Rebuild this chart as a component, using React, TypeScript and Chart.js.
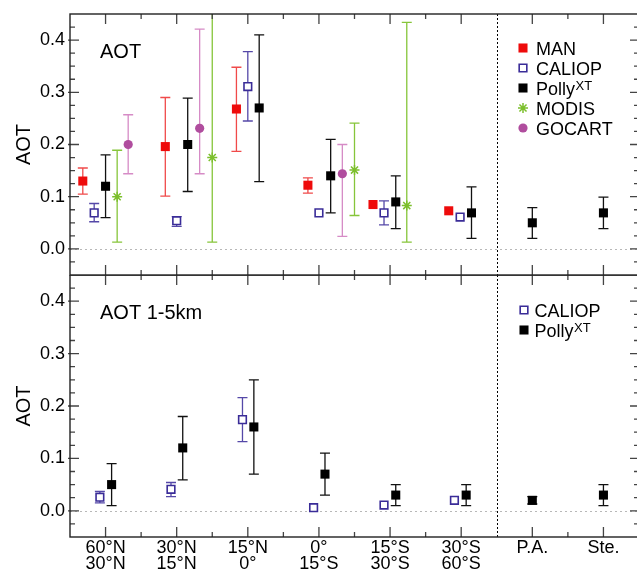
import React, { useEffect, useRef } from 'react';
import { Chart, registerables } from 'chart.js';
import { drawPoint } from 'chart.js/helpers';

Chart.register(...registerables);

const FONT = '"Liberation Sans", Arial, Helvetica, sans-serif';

// ---------- categories & ticks ----------
const categories: string[][] = [
  ['60°N', '30°N'],
  ['30°N', '15°N'],
  ['15°N', '0°'],
  ['0°', '15°S'],
  ['15°S', '30°S'],
  ['30°S', '60°S'],
  ['P.A.'],
  ['Ste.'],
];
const yTickValues = [0, 0.1, 0.2, 0.3, 0.4];
const yMin = -0.05;
const yMax = 0.45;
const separatorBetween = [5, 6]; // dashed line between these categories

// ---------- top panel: AOT ----------
const manAOT = [0.13, 0.196, 0.268, 0.122, 0.085, 0.073, null, null];
const manAOTLow = [0.105, 0.101, 0.187, 0.107, null, null, null, null];
const manAOTHigh = [0.155, 0.29, 0.348, 0.136, null, null, null, null];
const manAOTShift = [-0.32, -0.16, -0.16, -0.155, -0.24, -0.175, 0, 0];

const caliopAOT = [0.069, 0.054, 0.311, 0.069, 0.069, 0.061, null, null];
const caliopAOTLow = [0.052, 0.043, 0.245, null, 0.046, null, null, null];
const caliopAOTHigh = [0.087, 0.062, 0.378, null, 0.092, null, null, null];
const caliopAOTShift = [-0.16, 0, 0, 0, -0.085, -0.015, 0, 0];

const pollyAOT = [0.12, 0.2, 0.27, 0.14, 0.09, 0.069, 0.05, 0.069];
const pollyAOTLow = [0.06, 0.11, 0.129, 0.069, 0.039, 0.02, 0.02, 0.039];
const pollyAOTHigh = [0.18, 0.289, 0.41, 0.21, 0.14, 0.119, 0.079, 0.099];
const pollyAOTShift = [0, 0.155, 0.16, 0.165, 0.08, 0.145, 0, 0];

const modisAOT = [0.1, 0.175, null, 0.151, 0.083, null, null, null];
const modisAOTLow = [0.013, 0.013, null, 0.064, 0.013, null, null, null];
const modisAOTHigh = [0.189, 0.5, null, 0.241, 0.434, null, null, null];
const modisAOTShift = [0.163, 0.5, 0, 0.5, 0.235, 0, 0, 0];

const gocartAOT = [0.2, 0.231, null, 0.144, null, null, null, null];
const gocartAOTLow = [0.144, 0.144, null, 0.024, null, null, null, null];
const gocartAOTHigh = [0.257, 0.421, null, 0.2, null, null, null, null];
const gocartAOTShift = [0.318, 0.323, 0, 0.329, 0, 0, 0, 0];

// ---------- bottom panel: AOT 1-5 km ----------
const caliopLayer = [0.026, 0.041, 0.174, 0.006, 0.011, 0.02, null, null];
const caliopLayerLow = [0.015, 0.027, 0.132, null, null, null, null, null];
const caliopLayerHigh = [0.037, 0.054, 0.216, null, null, null, null, null];
const caliopLayerShift = [-0.08, -0.08, -0.075, -0.075, -0.085, -0.095, 0, 0];

const pollyLayer = [0.05, 0.12, 0.16, 0.07, 0.03, 0.03, 0.02, 0.03];
const pollyLayerLow = [0.01, 0.059, 0.07, 0.03, 0.01, 0.01, 0.013, 0.01];
const pollyLayerHigh = [0.09, 0.18, 0.25, 0.11, 0.05, 0.05, 0.027, 0.05];
const pollyLayerShift = [0.085, 0.085, 0.085, 0.085, 0.08, 0.07, 0, 0];

// ---------- styles ----------
const STYLE: Record<string, any> = {
  MAN: { pointStyle: 'rect', radius: 6.4, fill: '#ee0b0b', stroke: '#ee0b0b', borderWidth: 0, bar: '#f04a4a' },
  CALIOP: { pointStyle: 'rect', radius: 5.4, fill: '#ffffff', stroke: '#3a2c98', borderWidth: 1.6, bar: '#5548a8' },
  Polly: { pointStyle: 'rect', radius: 6.4, fill: '#000000', stroke: '#000000', borderWidth: 0, bar: '#111111', sup: 'XT' },
  MODIS: { pointStyle: 'star', radius: 5, fill: '#7cbf2c', stroke: '#7cbf2c', borderWidth: 1.5, bar: '#86c53a' },
  GOCART: { pointStyle: 'circle', radius: 4.6, fill: '#b04d9e', stroke: '#b04d9e', borderWidth: 0, bar: '#d68bc6' },
};

function makeDataset(label: string, values: any[], low: any[], high: any[], shift: number[]) {
  const st = STYLE[label];
  const pts: any[] = [];
  const bars: any[] = [];
  values.forEach((v, i) => {
    if (v == null) return;
    const x = i + shift[i];
    pts.push({ x, y: v });
    if (low[i] != null && high[i] != null) bars.push({ x, lo: low[i], hi: high[i] });
  });
  return {
    label,
    data: pts,
    errorBars: bars,
    barColor: st.bar,
    legendSup: st.sup,
    pointStyle: st.pointStyle,
    pointRadius: st.radius,
    pointHoverRadius: st.radius,
    pointBackgroundColor: st.fill,
    pointBorderColor: st.stroke,
    pointBorderWidth: st.borderWidth,
    showLine: false,
  };
}

const panelPlugin = {
  id: 'panel',
  beforeDatasetsDraw(chart: any, _args: any, opts: any) {
    const { ctx, chartArea: a } = chart;
    const xs = chart.scales.x;
    const ys = chart.scales.y;
    ctx.save();
    // zero line
    ctx.lineWidth = 1;
    ctx.strokeStyle = '#b8b8b8';
    ctx.setLineDash([2, 3]);
    const y0 = Math.round(ys.getPixelForValue(0)) + 0.5;
    ctx.beginPath();
    ctx.moveTo(a.left, y0);
    ctx.lineTo(a.right, y0);
    ctx.stroke();
    // separator
    ctx.strokeStyle = '#000';
    ctx.setLineDash([2, 2]);
    const sx = Math.round(
      (xs.getPixelForValue(separatorBetween[0]) + xs.getPixelForValue(separatorBetween[1])) / 2
    ) + 0.5;
    ctx.beginPath();
    ctx.moveTo(sx, a.top);
    ctx.lineTo(sx, a.bottom);
    ctx.stroke();
    ctx.setLineDash([]);
    // error bars
    ctx.beginPath();
    ctx.rect(a.left, a.top, a.right - a.left, a.bottom - a.top);
    ctx.clip();
    ctx.lineWidth = 1.3;
    chart.data.datasets.forEach((ds: any) => {
      ctx.strokeStyle = ds.barColor;
      ds.errorBars.forEach((b: any) => {
        const px = xs.getPixelForValue(b.x);
        const pl = ys.getPixelForValue(b.lo);
        const ph = ys.getPixelForValue(b.hi);
        ctx.beginPath();
        ctx.moveTo(px, pl);
        ctx.lineTo(px, ph);
        ctx.moveTo(px - 5, pl);
        ctx.lineTo(px + 5, pl);
        ctx.moveTo(px - 5, ph);
        ctx.lineTo(px + 5, ph);
        ctx.stroke();
      });
    });
    ctx.restore();
  },
  afterDatasetsDraw(chart: any, _args: any, opts: any) {
    const { ctx, chartArea: a } = chart;
    const xs = chart.scales.x;
    const ys = chart.scales.y;
    ctx.save();
    // ticks
    ctx.strokeStyle = '#444';
    ctx.lineWidth = 1.3;
    ctx.beginPath();
    categories.forEach((_c, i) => {
      const px = xs.getPixelForValue(i);
      ctx.moveTo(px, a.top);
      ctx.lineTo(px, a.top + 10);
      ctx.moveTo(px, a.bottom);
      ctx.lineTo(px, a.bottom - 10);
      if (i < categories.length - 1 && i !== separatorBetween[0]) {
        const pm = (px + xs.getPixelForValue(i + 1)) / 2;
        ctx.moveTo(pm, a.top);
        ctx.lineTo(pm, a.top + 5);
        ctx.moveTo(pm, a.bottom);
        ctx.lineTo(pm, a.bottom - 5);
      }
    });
    for (let k = 1; k < 20; k++) {
      const v = yMin + k * 0.025;
      const py = ys.getPixelForValue(v);
      const major = yTickValues.some((t) => Math.abs(t - v) < 1e-6);
      const len = major ? 9 : 5;
      ctx.moveTo(a.left - (major ? 2 : 0), py);
      ctx.lineTo(a.left + len, py);
      ctx.moveTo(a.right, py);
      ctx.lineTo(a.right - len, py);
    }
    ctx.stroke();
    // frame
    ctx.strokeStyle = '#222';
    ctx.lineWidth = 1.4;
    ctx.strokeRect(a.left, a.top, a.right - a.left, a.bottom - a.top);
    // panel label
    ctx.fillStyle = '#000';
    ctx.font = `20px ${FONT}`;
    ctx.textBaseline = 'alphabetic';
    ctx.textAlign = 'left';
    ctx.fillText(opts.title, a.left + 30, a.top + 44);
    // legend
    const mx = a.right - opts.legendDx;
    const tx = a.right - opts.legendTextDx;
    chart.data.datasets.forEach((ds: any, i: number) => {
      const cy = a.top + opts.legendTop + i * 20;
      ctx.fillStyle = ds.pointBackgroundColor;
      ctx.strokeStyle = ds.pointBorderColor;
      ctx.lineWidth = ds.pointBorderWidth;
      drawPoint(ctx, { pointStyle: ds.pointStyle, rotation: 0, radius: ds.pointRadius, borderWidth: ds.pointBorderWidth }, mx, cy);
      ctx.fillStyle = '#000';
      ctx.font = `18px ${FONT}`;
      ctx.fillText(ds.label, tx, cy + 6.5);
      if (ds.legendSup) {
        const w = ctx.measureText(ds.label).width;
        ctx.font = `13px ${FONT}`;
        ctx.fillText(ds.legendSup, tx + w + 0.5, cy + 2);
      }
    });
    ctx.restore();
  },
};

function makeConfig(datasets: any[], panel: any, showX: boolean) {
  return {
    type: 'scatter',
    data: { datasets },
    options: {
      responsive: false,
      animation: false,
      devicePixelRatio: 1,
      events: [],
      layout: {
        autoPadding: false,
        padding: { top: showX ? 0 : 14, bottom: showX ? 0 : 1, left: 0, right: 3 },
      },
      plugins: { legend: { display: false }, tooltip: { enabled: false }, panel },
      scales: {
        x: {
          type: 'linear',
          min: -0.5,
          max: 7.5,
          display: showX,
          afterBuildTicks: (s: any) => {
            s.ticks = categories.map((_c, i) => ({ value: i }));
          },
          afterFit: (s: any) => {
            s.height = showX ? 39 : 0;
            s.paddingLeft = 0;
            s.paddingRight = 0;
            s.paddingTop = 0;
            s.paddingBottom = 0;
          },
          grid: { display: false, drawTicks: false },
          border: { display: false },
          ticks: {
            padding: 3,
            autoSkip: false,
            maxRotation: 0,
            color: '#000',
            font: { family: FONT, size: 18, lineHeight: 0.9 },
            callback: (v: any) => categories[Math.round(Number(v))],
          },
        },
        y: {
          type: 'linear',
          min: yMin,
          max: yMax,
          afterBuildTicks: (s: any) => {
            s.ticks = yTickValues.map((v) => ({ value: v }));
          },
          afterFit: (s: any) => {
            s.width = 70;
            s.paddingTop = 0;
            s.paddingBottom = 0;
            s.paddingLeft = 0;
            s.paddingRight = 0;
          },
          grid: { display: false, drawTicks: false },
          border: { display: false },
          ticks: {
            padding: 5,
            color: '#000',
            font: { family: FONT, size: 18 },
            callback: (v: any) => Number(v).toFixed(1),
          },
          title: {
            display: true,
            text: 'AOT',
            color: '#000',
            font: { family: FONT, size: 20 },
            padding: { top: 12, bottom: 0 },
          },
        },
      },
    },
    plugins: [panelPlugin],
  } as any;
}

export default function App() {
  const topRef = useRef<HTMLCanvasElement>(null);
  const botRef = useRef<HTMLCanvasElement>(null);

  useEffect(() => {
    const topSets = [
      makeDataset('MAN', manAOT, manAOTLow, manAOTHigh, manAOTShift),
      makeDataset('CALIOP', caliopAOT, caliopAOTLow, caliopAOTHigh, caliopAOTShift),
      makeDataset('Polly', pollyAOT, pollyAOTLow, pollyAOTHigh, pollyAOTShift),
      makeDataset('MODIS', modisAOT, modisAOTLow, modisAOTHigh, modisAOTShift),
      makeDataset('GOCART', gocartAOT, gocartAOTLow, gocartAOTHigh, gocartAOTShift),
    ];
    const botSets = [
      makeDataset('CALIOP', caliopLayer, caliopLayerLow, caliopLayerHigh, caliopLayerShift),
      makeDataset('Polly', pollyLayer, pollyLayerLow, pollyLayerHigh, pollyLayerShift),
    ];
    const top = new Chart(
      topRef.current as HTMLCanvasElement,
      makeConfig(topSets, { title: 'AOT', legendDx: 116, legendTextDx: 103, legendTop: 34 }, false)
    );
    const bot = new Chart(
      botRef.current as HTMLCanvasElement,
      makeConfig(botSets, { title: 'AOT 1-5km', legendDx: 115, legendTextDx: 104.5, legendTop: 35 }, true)
    );
    return () => {
      top.destroy();
      bot.destroy();
    };
  }, []);

  return (
    <div
      style={{
        position: 'absolute',
        left: 0,
        top: 0,
        width: 637,
        height: 576,
        overflow: 'hidden',
        background: '#fff',
      }}
    >
      <canvas ref={topRef} width={642} height={276} style={{ position: 'absolute', left: 0, top: 0 }} />
      <canvas ref={botRef} width={642} height={301} style={{ position: 'absolute', left: 0, top: 275 }} />
    </div>
  );
}
